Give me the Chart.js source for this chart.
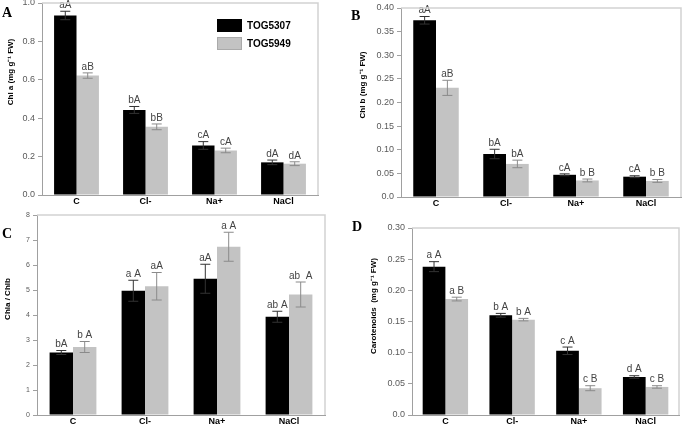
<!DOCTYPE html>
<html>
<head>
<meta charset="utf-8">
<script src="https://cdn.jsdelivr.net/npm/chart.js@4.4.1/dist/chart.umd.min.js"></script>
<style>
  html, body { margin: 0; padding: 0; background: #fff; }
  #wrap { position: relative; width: 685px; height: 426px; overflow: hidden; }
  canvas { position: absolute; left: 0; top: 0; }
</style>
</head>
<body>
<div id="wrap">
  <canvas id="pA" width="685" height="426"></canvas>
  <canvas id="pB" width="685" height="426"></canvas>
  <canvas id="pC" width="685" height="426"></canvas>
  <canvas id="pD" width="685" height="426"></canvas>
</div>
<script>
// categories and series
const categories = ['C', 'Cl-', 'Na+', 'NaCl'];
const seriesNames = ['TOG5307', 'TOG5949'];

// A: Chl a
const chlA5307 = [0.935, 0.443, 0.258, 0.170];
const chlA5307Err = [0.022, 0.018, 0.020, 0.012];
const chlA5949 = [0.622, 0.355, 0.232, 0.163];
const chlA5949Err = [0.014, 0.015, 0.012, 0.010];
const chlA5307Marks = ['aA', 'bA', 'cA', 'dA'];
const chlA5949Marks = ['aB', 'bB', 'cA', 'dA'];
const ticksA = ['0.0', '0.2', '0.4', '0.6', '0.8', '1.0'];

// B: Chl b
const chlB5307 = [0.374, 0.091, 0.047, 0.043];
const chlB5307Err = [0.008, 0.010, 0.002, 0.002];
const chlB5949 = [0.231, 0.070, 0.035, 0.034];
const chlB5949Err = [0.016, 0.008, 0.003, 0.003];
const chlB5307Marks = ['aA', 'bA', 'cA', 'cA'];
const chlB5949Marks = ['aB', 'bA', 'b B', 'b B'];
const ticksB = ['0.0', '0.05', '0.10', '0.15', '0.20', '0.25', '0.30', '0.35', '0.40'];

// C: Chla / Chlb
const ratio5307 = [2.50, 4.97, 5.45, 3.93];
const ratio5307Err = [0.08, 0.42, 0.58, 0.22];
const ratio5949 = [2.72, 5.15, 6.73, 4.82];
const ratio5949Err = [0.22, 0.55, 0.58, 0.50];
const ratio5307Marks = ['bA', 'a A', 'aA', 'ab A'];
const ratio5949Marks = ['b A', 'aA', 'a A', 'ab  A'];
const ticksC = ['0', '1', '2', '3', '4', '5', '6', '7', '8'];

// D: Carotenoids
const car5307 = [0.238, 0.160, 0.103, 0.061];
const car5307Err = [0.008, 0.003, 0.006, 0.002];
const car5949 = [0.186, 0.153, 0.043, 0.045];
const car5949Err = [0.003, 0.002, 0.004, 0.002];
const car5307Marks = ['a A', 'b A', 'c A', 'd A'];
const car5949Marks = ['a B', 'b A', 'c B', 'c B'];
const ticksD = ['0.0', '0.05', '0.10', '0.15', '0.20', '0.25', '0.30'];

const FONT = "'Liberation Sans', Arial, sans-serif";
const W = 685, H = 426;

// error bars, letters, frame, titles
function extras(p) {
  return {
    id: 'extras',
    afterDatasetsDraw(chart) {
      const ctx = chart.ctx, ys = chart.scales.y, a = chart.chartArea;
      ctx.save();
      chart.data.datasets.forEach((ds, d) => {
        const meta = chart.getDatasetMeta(d);
        meta.data.forEach((bar, i) => {
          const v = ds.data[i], e = ds.errs[i];
          const top = ys.getPixelForValue(v + e), bot = ys.getPixelForValue(v - e);
          ctx.strokeStyle = ds.errColor;
          ctx.lineWidth = 1;
          ctx.beginPath();
          ctx.moveTo(bar.x, top); ctx.lineTo(bar.x, bot);
          ctx.moveTo(bar.x - 5, top); ctx.lineTo(bar.x + 5, top);
          ctx.moveTo(bar.x - 5, bot); ctx.lineTo(bar.x + 5, bot);
          ctx.stroke();
          ctx.fillStyle = '#444';
          ctx.font = '10px ' + FONT;
          ctx.textAlign = 'center';
          ctx.textBaseline = 'bottom';
          ctx.fillText(ds.marks[i], bar.x, top - 1);
        });
      });
      // light frame on top and right
      ctx.strokeStyle = '#d2d2d2';
      ctx.lineWidth = 1.5;
      ctx.beginPath();
      ctx.moveTo(a.left, a.top); ctx.lineTo(a.right, a.top); ctx.lineTo(a.right, a.bottom);
      ctx.stroke();
      ctx.restore();
    },
    afterDraw(chart) {
      const ctx = chart.ctx;
      ctx.save();
      // y axis title
      ctx.translate(p.titlePos[0], p.titlePos[1]);
      ctx.rotate(-Math.PI / 2);
      ctx.fillStyle = '#000';
      ctx.font = 'bold 8px ' + FONT;
      ctx.textAlign = 'center';
      ctx.textBaseline = 'middle';
      ctx.fillText(p.title, 0, 0);
      ctx.restore();
      // panel letter
      ctx.save();
      ctx.fillStyle = '#000';
      ctx.font = "bold 14px 'Liberation Serif', serif";
      ctx.textAlign = 'left';
      ctx.textBaseline = 'alphabetic';
      ctx.fillText(p.letter, p.letterPos[0], p.letterPos[1]);
      // legend only on panel A
      if (p.legend) {
        const ds = chart.data.datasets;
        ctx.font = 'bold 10px ' + FONT;
        ctx.textBaseline = 'middle';
        ds.forEach((s, k) => {
          const y0 = 19 + k * 18;
          ctx.fillStyle = s.backgroundColor;
          ctx.fillRect(217, y0, 25, 13);
          if (k === 1) { ctx.strokeStyle = '#aaa'; ctx.lineWidth = 1; ctx.strokeRect(217.5, y0 + 0.5, 24, 12); }
          ctx.fillStyle = '#000';
          ctx.fillText(s.label, 247, y0 + 7);
        });
      }
      ctx.restore();
    }
  };
}

function makePanel(id, p) {
  const yw = 30, xh = 12;
  new Chart(document.getElementById(id), {
    type: 'bar',
    data: {
      labels: categories,
      datasets: [
        { label: seriesNames[0], data: p.v1, errs: p.e1, marks: p.m1, backgroundColor: '#000000', errColor: '#333' },
        { label: seriesNames[1], data: p.v2, errs: p.e2, marks: p.m2, backgroundColor: '#c3c3c3', errColor: '#8a8a8a' }
      ]
    },
    options: {
      responsive: false,
      animation: false,
      devicePixelRatio: 1,
      layout: { padding: { left: p.box[0] - yw, top: p.box[1], right: W - p.box[2], bottom: H - p.box[3] - xh } },
      datasets: { bar: { categoryPercentage: p.cat, barPercentage: 1 } },
      plugins: { legend: { display: false }, tooltip: { enabled: false } },
      scales: {
        x: {
          grid: { display: true, drawOnChartArea: false, drawTicks: false },
          border: { color: '#a0a0a0', width: 1 },
          ticks: { color: '#000', padding: 1, font: { family: FONT, size: 9, weight: 'bold' } },
          afterFit: s => { s.height = xh; s.paddingLeft = 0; s.paddingRight = 0; }
        },
        y: {
          min: 0, max: p.max,
          ticks: { stepSize: p.step, color: '#5a5a5a', padding: 3, font: { family: FONT, size: p.tickSize }, callback: (v, i) => p.ticks[i] },
          grid: { drawOnChartArea: false, tickLength: 4, color: '#a0a0a0' },
          border: { color: '#a0a0a0', width: 1 },
          afterFit: s => { s.width = yw; s.paddingTop = 0; s.paddingBottom = 0; }
        }
      }
    },
    plugins: [extras(p)]
  });
}

makePanel('pA', {
  v1: chlA5307, e1: chlA5307Err, m1: chlA5307Marks,
  v2: chlA5949, e2: chlA5949Err, m2: chlA5949Marks,
  ticks: ticksA, max: 1.0, step: 0.2, tickSize: 9,
  box: [42, 3, 318, 195], cat: 0.65,
  title: 'Chl a (mg g\u207B\u00B9 FW)', titlePos: [11, 72],
  letter: 'A', letterPos: [2, 17], legend: true
});
makePanel('pB', {
  v1: chlB5307, e1: chlB5307Err, m1: chlB5307Marks,
  v2: chlB5949, e2: chlB5949Err, m2: chlB5949Marks,
  ticks: ticksB, max: 0.4, step: 0.05, tickSize: 9,
  box: [401, 8, 681, 197], cat: 0.65,
  title: 'Chl b (mg g\u207B\u00B9 FW)', titlePos: [363, 85],
  letter: 'B', letterPos: [351, 20]
});
makePanel('pC', {
  v1: ratio5307, e1: ratio5307Err, m1: ratio5307Marks,
  v2: ratio5949, e2: ratio5949Err, m2: ratio5949Marks,
  ticks: ticksC, max: 8, step: 1, tickSize: 7,
  box: [37, 215, 325, 415], cat: 0.65,
  title: 'Chla / Chlb', titlePos: [8, 299],
  letter: 'C', letterPos: [2, 238]
});
makePanel('pD', {
  v1: car5307, e1: car5307Err, m1: car5307Marks,
  v2: car5949, e2: car5949Err, m2: car5949Marks,
  ticks: ticksD, max: 0.3, step: 0.05, tickSize: 9,
  box: [412, 228, 679, 415], cat: 0.68,
  title: 'Carotenoids  (mg g\u207B\u00B9 FW)', titlePos: [374, 306],
  letter: 'D', letterPos: [352, 231]
});
</script>
</body>
</html>
